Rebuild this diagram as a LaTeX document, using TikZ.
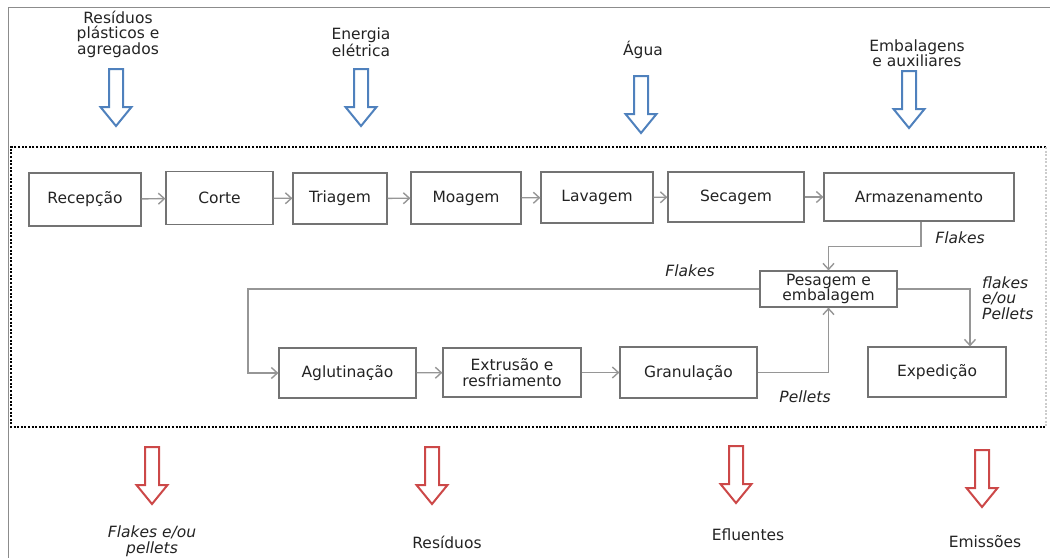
\documentclass[tikz,border=0pt]{standalone}
\usepackage{fontspec}
\setmainfont{DejaVu Sans}
\usetikzlibrary{arrows.meta}
\usetikzlibrary{positioning}
\definecolor{boxgray}{RGB}{115,115,115}
\definecolor{linegray}{RGB}{150,150,150}
\definecolor{framegray}{RGB}{140,140,140}
\definecolor{inblue}{RGB}{79,129,189}
\definecolor{outred}{RGB}{204,72,72}
\definecolor{txtgray}{RGB}{35,35,35}
\tikzset{
  hollow_arrow/.pic={
    \draw[pic actions] (-7,0) -- (7,0) -- (7,38) -- (15.5,38) -- (0,57)
      -- (-15.5,38) -- (-7,38) -- cycle;
  },
}

\begin{document}
\begin{tikzpicture}[x=1pt, y=-1pt,
        nodes={font=\fontsize{15.5}{15.5}\selectfont, text=txtgray, inner sep=0pt},
        step_box/.style={rectangle, draw=boxgray, line width=1.2pt, align=center},
        flow_line/.style={-{Straight Barb[length=6pt,width=11pt]}, draw=linegray, line width=1.4pt},
        flow_text/.style={font=\fontsize{15.5}{15.5}\selectfont\itshape, align=left},
        label_text/.style={align=center},
        in_arrow/.style={draw=inblue, line width=2pt, fill=white},
        out_arrow/.style={draw=outred, line width=2pt, fill=white}]

      \useasboundingbox (0,0) rectangle (1050,558);

      % frame and process area
      \draw[framegray, line width=1pt] (1050,7) -- (8,7) -- (8,558);
      \draw[black, line width=2pt, dash pattern=on 2pt off 1.6pt] (1046,147) -- (11,147) -- (11,427) -- (1046,427);
      \draw[black!20, line width=2pt, dash pattern=on 2pt off 1.6pt] (1046,147) -- (1046,427);

      % inputs
      \node[label_text] (in_residuos) at (118,34) {Resíduos\\plásticos e\\agregados};
      \node[label_text] (in_energia) at (361,42) {Energia\\elétrica};
      \node[label_text] (in_agua) at (643,50) {Água};
      \node[label_text] (in_embal) at (917,53) {Embalagens\\e auxiliares};
      \pic[in_arrow] at (116,69) {hollow_arrow};
      \pic[in_arrow] at (361,69) {hollow_arrow};
      \pic[in_arrow] at (641,76) {hollow_arrow};
      \pic[in_arrow] at (909,71) {hollow_arrow};

      % first line
      \node[step_box, minimum width=112, minimum height=53] (recepcao) at (85,199.5) {Recepção};
      \node[step_box, minimum width=107, minimum height=53] (corte) at (219.5,198) {Corte};
      \node[step_box, minimum width=94, minimum height=51] (triagem) at (340,198.5) {Triagem};
      \node[step_box, minimum width=110, minimum height=52] (moagem) at (466,198) {Moagem};
      \node[step_box, minimum width=112, minimum height=51] (lavagem) at (597,197.5) {Lavagem};
      \node[step_box, minimum width=136, minimum height=50] (secagem) at (736,197) {Secagem};
      \node[step_box, minimum width=190, minimum height=48] (armaz) at (919,197) {Armazenamento};

      % second line
      \node[step_box, minimum width=137, minimum height=36] (pesagem) at (828.5,289) {Pesagem e\\embalagem};
      \node[step_box, minimum width=137, minimum height=50] (aglut) at (347.5,373) {Aglutinação};
      \node[step_box, minimum width=138, minimum height=49] (extrusao) at (512,372.5) {Extrusão e\\resfriamento};
      \node[step_box, minimum width=137, minimum height=51] (granul) at (688.5,372.5) {Granulação};
      \node[step_box, minimum width=138, minimum height=50] (exped) at (937,372) {Expedição};

      \coordinate (loop_corner) at (248,289);
      \coordinate (exp_corner) at (970,289);

      \draw[flow_line] (recepcao) -- (corte);
      \draw[flow_line] (corte) -- (triagem);
      \draw[flow_line] (triagem) -- (moagem);
      \draw[flow_line] (moagem) -- (lavagem);
      \draw[flow_line] (lavagem) -- (secagem);
      \draw[flow_line] (secagem) -- (armaz);
      \draw[flow_line] ([xshift=2]armaz.south) -- ++(0,25) -| (pesagem.north);
      \draw[flow_line] (pesagem.west) -- (loop_corner) |- (aglut.west);
      \draw[flow_line] (aglut) -- (extrusao);
      \draw[flow_line] (extrusao) -- (granul);
      \draw[flow_line] (granul.east) -| (pesagem.south);
      \draw[flow_line] (pesagem.east) -- (exp_corner) -- (exp_corner |- exped.north);

      \node[flow_text] (lbl_flakes_a) at (960,238) {Flakes};
      \node[flow_text] (lbl_flakes_b) at (690,271) {Flakes};
      \node[flow_text] (lbl_pellets) at (805,397) {Pellets};
      \node[flow_text, anchor=west] (lbl_mix) at (982,298) {flakes\\e/ou\\Pellets};

      % outputs
      \pic[out_arrow] at (152,447) {hollow_arrow};
      \pic[out_arrow] at (432,447) {hollow_arrow};
      \pic[out_arrow] at (736,446) {hollow_arrow};
      \pic[out_arrow] at (982,450) {hollow_arrow};
      \node[flow_text, align=center] (out_produto) at (152,541) {Flakes e/ou\\pellets};
      \node[label_text] (out_residuos) at (447,542) {Resíduos};
      \node[label_text] (out_efluentes) at (748,535) {Efluentes};
      \node[label_text] (out_emissoes) at (985,542) {Emissões};
    \end{tikzpicture}
\end{document}
